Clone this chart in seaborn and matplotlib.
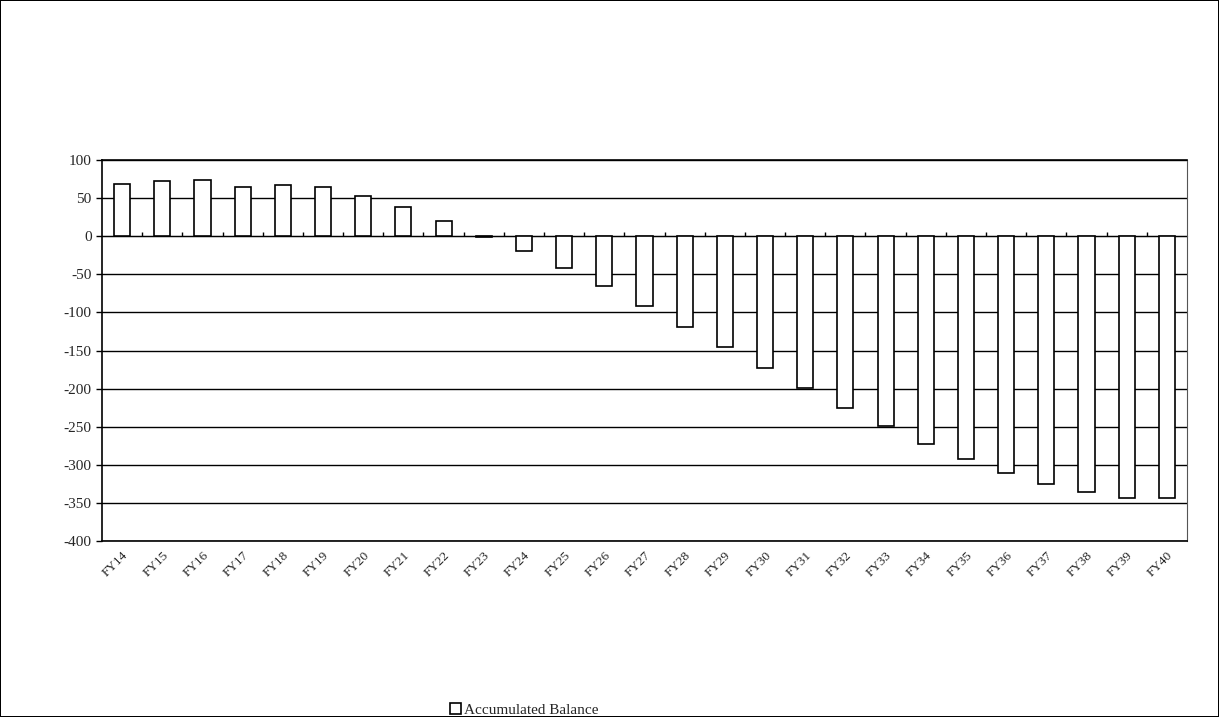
import pandas as pd
import matplotlib.pyplot as plt
import seaborn as sns

# Data
years = ['FY14', 'FY15', 'FY16', 'FY17', 'FY18', 'FY19', 'FY20', 'FY21', 'FY22',
         'FY23', 'FY24', 'FY25', 'FY26', 'FY27', 'FY28', 'FY29', 'FY30', 'FY31',
         'FY32', 'FY33', 'FY34', 'FY35', 'FY36', 'FY37', 'FY38', 'FY39', 'FY40']
balance = [69, 72, 74, 65, 67, 64, 53, 38, 20,
           -1, -19, -42, -65, -91, -119, -146, -173, -199,
           -226, -249, -273, -293, -311, -325, -336, -343, -344]
y_ticks = list(range(-400, 101, 50))

df = pd.DataFrame({'Year': years, 'Balance': balance})

sns.set_style('white')
plt.rcParams['font.family'] = ['Liberation Serif', 'DejaVu Serif']
plt.rcParams['axes.unicode_minus'] = False

fig = plt.figure(figsize=(12.19, 7.17), dpi=100)
ax = fig.add_axes([0.0837, 0.2455, 0.89, 0.5313])

sns.barplot(data=df, x='Year', y='Balance', color='white', edgecolor='black',
            linewidth=1.2, width=0.4, saturation=1, label='Accumulated Balance', ax=ax)

# Move legend out of the axes, to the bottom of the chart
handles, labels = ax.get_legend_handles_labels()
if ax.get_legend() is not None:
    ax.get_legend().remove()

# Horizontal gridlines like the spreadsheet chart
ax.set_ylim(-400, 100)
ax.set_yticks(y_ticks)
ax.yaxis.grid(True, color='black', linewidth=1.0)
ax.set_axisbelow(True)
ax.set_xlim(-0.5, len(years) - 0.5)

ax.tick_params(axis='y', labelsize=11, direction='out', length=4, width=1, left=True, color='black')
ax.tick_params(axis='x', labelsize=9.5, length=0, pad=6)
plt.setp(ax.get_xticklabels(), rotation=45, ha='right', rotation_mode='anchor')

ax.set_xlabel('')
ax.set_ylabel('')

for side in ['left', 'top', 'bottom']:
    ax.spines[side].set_color('black')
    ax.spines[side].set_linewidth(1.2)
ax.spines['right'].set_color('#555555')
ax.spines['right'].set_linewidth(0.8)
ax.spines['right'].set_linestyle((0, (2, 1)))

# Category tick marks along the zero line
zero_pos = (0 - (-400)) / 500
sec = ax.secondary_xaxis(zero_pos)
sec.set_xticks([i + 0.5 for i in range(len(years) - 1)])
sec.set_xticklabels([])
sec.tick_params(direction='out', length=3, width=1, color='black')
sec.spines['bottom'].set_visible(False)

fig.legend(handles, labels, loc='center', bbox_to_anchor=(0.43, 0.01),
           frameon=False, fontsize=11, handlelength=0.7, handleheight=0.7,
           handletextpad=0.2)

# Outer chart border
fig.patch.set_edgecolor('black')
fig.patch.set_linewidth(1.2)

plt.savefig('out.png', dpi=100, edgecolor=fig.get_edgecolor())
